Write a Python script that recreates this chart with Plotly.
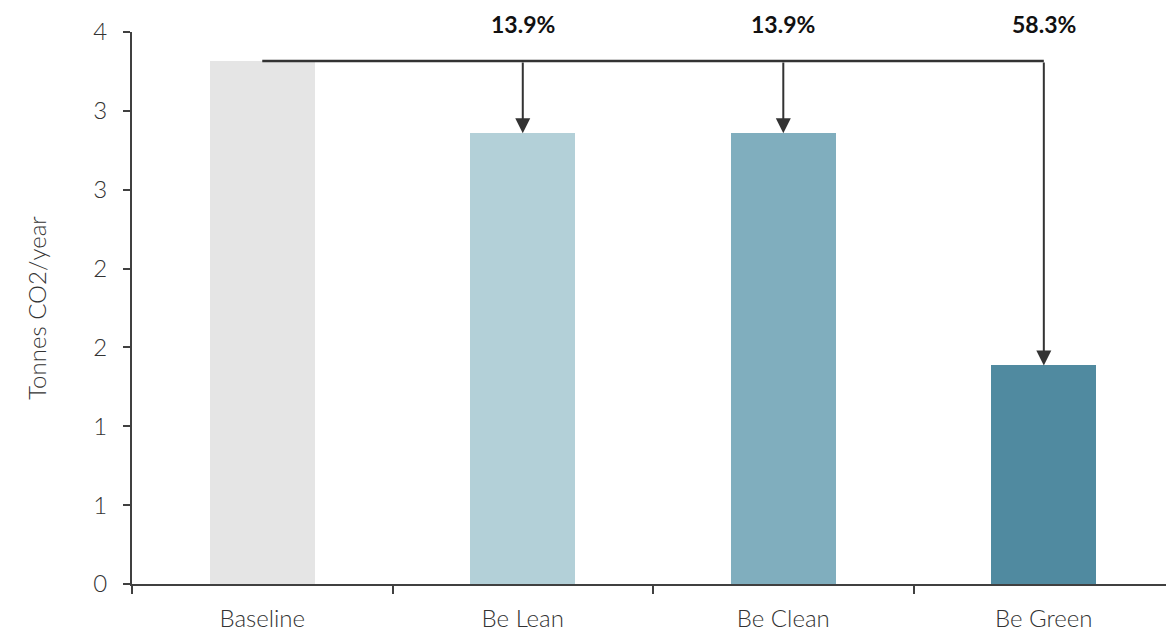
import plotly.graph_objects as go

categories = ["Baseline", "Be Lean", "Be Clean", "Be Green"]
values = [3.316, 2.858, 2.858, 1.386]
colors = ["#e5e5e5", "#b3d0d8", "#80aebe", "#508aa0"]
reduction_labels = ["13.9%", "13.9%", "58.3%"]
y_tickvals = [0, 0.5, 1, 1.5, 2, 2.5, 3, 3.5]
y_ticktext = ["0", "1", "1", "2", "2", "3", "3", "4"]

axis_color = "#404040"
font_family = "Lato"
tick_font = dict(family=font_family, size=24, color="#333333", weight=300)

fig = go.Figure()
fig.add_trace(go.Bar(
    x=categories, y=values, marker=dict(color=colors, line=dict(width=0)),
    width=0.403, hoverinfo="skip", showlegend=False,
))

# horizontal connector at baseline level
fig.add_shape(type="line", xref="x", yref="y",
              x0=categories[0], x1=categories[-1], y0=values[0], y1=values[0],
              line=dict(color="#333333", width=2.5), layer="above")

for cat, val, lab in zip(categories[1:], values[1:], reduction_labels):
    fig.add_annotation(x=cat, y=val, ax=cat, ay=values[0], xref="x", yref="y",
                       axref="x", ayref="y", showarrow=True, arrowhead=2,
                       arrowsize=1.5, arrowwidth=2, arrowcolor="#333333",
                       text="", standoff=0)
    fig.add_annotation(x=cat, y=1.0, xref="x", yref="paper", yshift=8,
                       text=f"<b>{lab}</b>", showarrow=False, yanchor="middle",
                       font=dict(family=font_family, size=23, color="#111111"))

fig.update_layout(
    width=1166, height=632,
    margin=dict(l=132, r=0, t=32, b=48),
    plot_bgcolor="white", paper_bgcolor="white",
    font=dict(family=font_family, size=24, color=axis_color),
    bargap=0,
)
fig.update_xaxes(
    type="category", range=[-0.5, 3.469], showline=True, linecolor=axis_color,
    linewidth=2, ticks="outside", tickson="boundaries", ticklen=8,
    tickwidth=2, tickcolor=axis_color, showgrid=False, zeroline=False,
    tickfont=tick_font, ticklabelstandoff=12,
)
fig.update_yaxes(
    range=[0, 3.5], tickvals=y_tickvals, ticktext=y_ticktext,
    showline=True, linecolor=axis_color, linewidth=2, ticks="outside",
    ticklen=7, tickwidth=2, tickcolor=axis_color, showgrid=False, zeroline=False,
    tickfont=tick_font, ticklabelstandoff=11,
    title=dict(text="Tonnes CO2/year", standoff=40, font=tick_font),
)

fig.write_html("out.html")
